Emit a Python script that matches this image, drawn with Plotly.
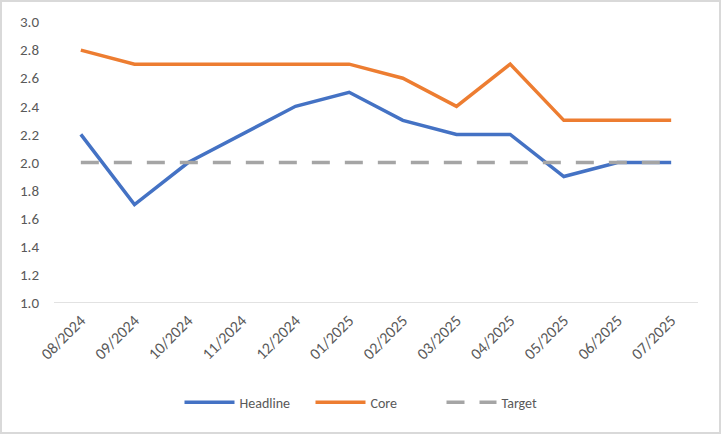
import plotly.graph_objects as go

months = ["08/2024", "09/2024", "10/2024", "11/2024", "12/2024", "01/2025",
          "02/2025", "03/2025", "04/2025", "05/2025", "06/2025", "07/2025"]
headline = [2.2, 1.7, 2.0, 2.2, 2.4, 2.5, 2.3, 2.2, 2.2, 1.9, 2.0, 2.0]
core = [2.8, 2.7, 2.7, 2.7, 2.7, 2.7, 2.6, 2.4, 2.7, 2.3, 2.3, 2.3]
target = [2.0] * 12

FONT = "Carlito, Calibri, Lato, sans-serif"
GREY_TXT = "#595959"

fig = go.Figure()
fig.add_trace(go.Scatter(x=months, y=headline, name="Headline", mode="lines",
                         line=dict(color="#4472C4", width=3.5)))
fig.add_trace(go.Scatter(x=months, y=core, name="Core", mode="lines",
                         line=dict(color="#ED7D31", width=3.5)))
fig.add_trace(go.Scatter(x=months, y=target, name="Target", mode="lines",
                         line=dict(color="#A5A5A5", width=3.5, dash="18px,15px")))

fig.update_layout(
    width=722, height=434,
    margin=dict(l=54, r=24, t=22, b=131),
    paper_bgcolor="white", plot_bgcolor="white",
    font=dict(family=FONT, size=14, color=GREY_TXT),
    showlegend=True,
    legend=dict(orientation="h", x=0.5, xanchor="center", y=-0.355, yanchor="middle",
                traceorder="normal", font=dict(size=14, color=GREY_TXT),
                itemwidth=50, entrywidth=66),
    # light grey chart-area border
    shapes=[dict(type="rect", xref="paper", yref="paper",
                 x0=-53 / 644, x1=1 + 22 / 644, y0=-130 / 281, y1=1 + 21 / 281,
                 line=dict(color="#D9D9D9", width=2))],
)

fig.update_xaxes(type="category", range=[-0.5, 11.5], showgrid=False, zeroline=False,
                 showline=False, tickangle=-45, ticks="", automargin=False,
                 ticklabelstandoff=4, tickfont=dict(size=16, color=GREY_TXT))
fig.update_yaxes(range=[1.0, 3.0], dtick=0.2, tickformat=".1f", showgrid=False,
                 zeroline=False, showline=False, ticks="", ticklabelstandoff=14,
                 automargin=False, tickfont=dict(size=15, color=GREY_TXT))
# bottom axis line at 1.0
fig.add_hline(y=1.0, line=dict(color="#D9D9D9", width=1.5), layer="below")

fig.write_html("out.html", config={"displayModeBar": False},
               post_script="document.body.style.margin='0';")
